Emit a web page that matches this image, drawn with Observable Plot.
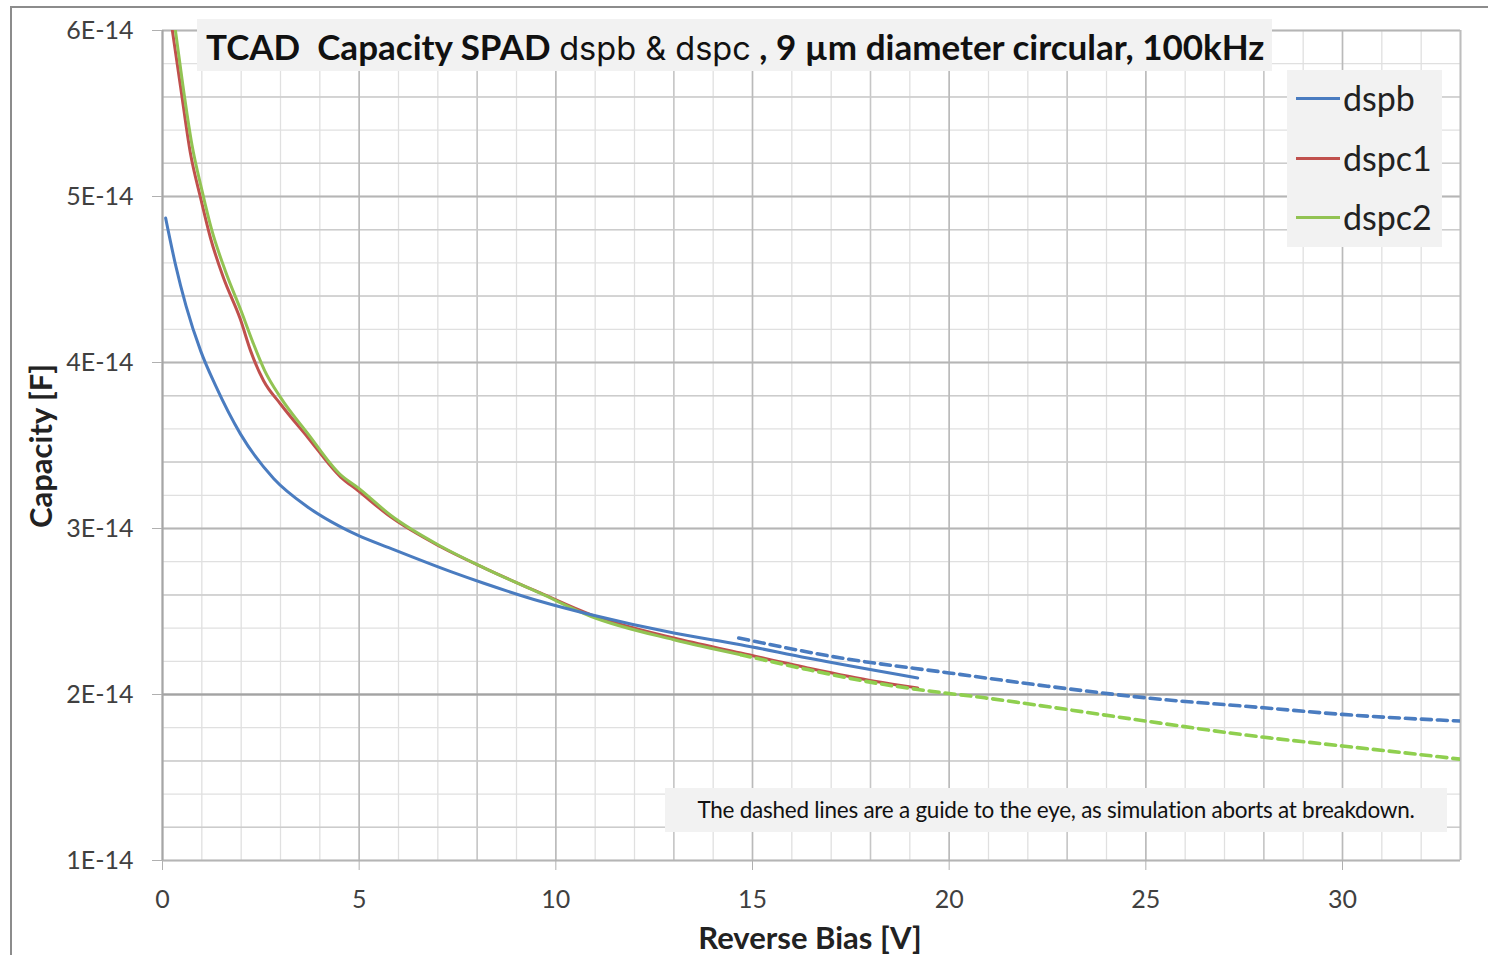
<!DOCTYPE html>
<html>
<head>
<meta charset="utf-8">
<script src="https://cdn.jsdelivr.net/npm/d3@7"></script>
<script src="https://cdn.jsdelivr.net/npm/@observablehq/plot@0.6"></script>
<style>
  html, body { margin: 0; padding: 0; background: #fff; }
  #wrap { position: relative; width: 1488px; height: 955px; overflow: hidden; font-family: Lato, "Open Sans", sans-serif; }
  #wrap svg { position: absolute; left: 0; top: 0; }
  .box { position: absolute; background: #f2f2f2; }
  #border { position: absolute; left: 10px; top: 6px; width: 1500px; height: 1000px; border-left: 2px solid #8c8c8c; border-top: 2px solid #8c8c8c; }
  #title { left: 197px; top: 19px; width: 1075px; height: 52px; font-size: 35px; line-height: 54px; color: #111; white-space: nowrap; }
  #title span.b { font-weight: 700; }
  #title span.r { font-family: Inter, "Noto Sans", sans-serif; font-weight: 400; font-size: 32.5px; }
  #legend { left: 1287px; top: 70px; width: 155px; height: 177px; }
  .li { position: absolute; left: 9px; height: 40px; width: 150px; }
  .li .sw { position: absolute; left: 0; top: 19px; width: 44px; height: 3px; }
  .li .lt { position: absolute; left: 47px; top: 0; font-size: 34px; line-height: 40px; color: #222; }
  #note { left: 665px; top: 788px; width: 782px; height: 44px; font-size: 22.5px; line-height: 44px; text-align: center; color: #111; letter-spacing: -0.25px; white-space: nowrap; }
  .axl { position: absolute; font-weight: 700; font-size: 31px; color: #222; white-space: nowrap; }
</style>
</head>
<body>
<div id="wrap"></div>
<script>
// Reverse bias [V] and capacity [in units of 1E-14 F]
const bias_dspb = [0.08, 0.33, 0.60, 0.97, 1.35, 1.98, 2.83, 3.69, 4.53, 4.96, 5.80, 7.33, 8.17, 9.62, 10.9, 13.0, 14.7, 16.4, 19.2];
const cap_dspb  = [4.87, 4.59, 4.34, 4.07, 3.86, 3.57, 3.30, 3.13, 3.01, 2.96, 2.88, 2.74, 2.67, 2.56, 2.48, 2.37, 2.30, 2.22, 2.10];

const bias_dspc1 = [0.22, 0.46, 0.71, 0.97, 1.22, 1.55, 1.98, 2.24, 2.57, 3.0, 3.69, 4.53, 4.96, 5.80, 7.07, 8.2, 9.62, 10.9, 13.0, 14.7, 16.4, 18.1, 19.2];
const cap_dspc1  = [6.05, 5.66, 5.26, 4.99, 4.75, 4.51, 4.26, 4.07, 3.89, 3.75, 3.55, 3.31, 3.23, 3.07, 2.89, 2.76, 2.61, 2.48, 2.34, 2.25, 2.16, 2.08, 2.04];

const bias_dspc2 = [0.30, 0.5, 0.75, 1.0, 1.25, 1.6, 2.0, 2.3, 2.6, 3.0, 3.7, 4.5, 5.0, 5.8, 7.1, 8.2, 9.6, 10.9, 13.0, 14.7];
const cap_dspc2  = [6.05, 5.70, 5.31, 5.04, 4.80, 4.55, 4.31, 4.12, 3.95, 3.79, 3.57, 3.33, 3.24, 3.08, 2.89, 2.76, 2.61, 2.47, 2.33, 2.24];

// dashed "guide to the eye" extrapolations
const bias_dspb_guide = [14.65, 17.25, 20.0, 22.5, 25.0, 28.0, 30.0, 33.0];
const cap_dspb_guide  = [2.34, 2.22, 2.13, 2.05, 1.98, 1.92, 1.88, 1.84];
const bias_dspc2_guide = [14.7, 16.4, 18.1, 19.2, 20.9, 22.7, 25.0, 27.4, 30.0, 31.9, 33.0];
const cap_dspc2_guide  = [2.24, 2.15, 2.07, 2.03, 1.98, 1.92, 1.84, 1.76, 1.69, 1.64, 1.61];

const xTicks = [0, 5, 10, 15, 20, 25, 30];
const yTicks = [1, 2, 3, 4, 5, 6];
const seriesNames = ["dspb", "dspc1", "dspc2"];
const seriesColors = ["#4a7cc0", "#c0504d", "#92c353"];

const UNIT = 1e-14;
const toRows = (xs, ys) => xs.map((x, i) => ({ x, y: ys[i] * UNIT }));

const xMinor = d3.range(0, 34, 1);
const xMedium = [8, 13, 18, 23, 28];
const yMinor = d3.range(10, 61, 2).map(v => v / 10 * UNIT);
const yMedium = [5.6, 5.2, 4.8, 4.4, 3.8, 3.4, 2.6, 1.6, 1.2].map(v => v * UNIT);
const yMajor = yTicks.map(v => v * UNIT);

const lineOpts = (color, dashed) => ({
  x: "x", y: "y", stroke: color, strokeWidth: dashed ? 3.6 : 3, curve: "monotone-x", clip: true,
  strokeDasharray: dashed ? "10,6" : null
});

const chart = Plot.plot({
  width: 1488,
  height: 955,
  marginLeft: 162,
  marginRight: 28,
  marginTop: 30,
  marginBottom: 95,
  x: { domain: [0, 33] },
  y: { domain: [1 * UNIT, 6 * UNIT] },
  style: { fontFamily: "Lato, 'Open Sans', sans-serif", fontSize: "25px", color: "#404040", background: "transparent", overflow: "visible" },
  marks: [
    Plot.ruleX(xMinor, { stroke: "#e0e0e0", strokeWidth: 1.3 }),
    Plot.ruleY(yMinor, { stroke: "#e0e0e0", strokeWidth: 1.3 }),
    Plot.ruleX(xMedium, { stroke: "#c6c6c6", strokeWidth: 1.5 }),
    Plot.ruleY(yMedium, { stroke: "#cccccc", strokeWidth: 1.5 }),
    Plot.ruleX(xTicks, { stroke: "#bababa", strokeWidth: 1.6 }),
    Plot.ruleY(yMajor, { stroke: "#b5b5b5", strokeWidth: 1.8 }),
    Plot.ruleY([2 * UNIT], { stroke: "#a3a3a3", strokeWidth: 2 }),
    Plot.ruleX([0], { stroke: "#a6a6a6", strokeWidth: 2 }),
    Plot.ruleX([33], { stroke: "#bdbdbd", strokeWidth: 2 }),
    Plot.axisY({ ticks: yMajor, tickFormat: d => `${Math.round(d / UNIT)}E-14`, tickSize: 10, tickPadding: 19, stroke: "#b0b0b0", fill: "#404040", label: null, fontSize: 25 }),
    Plot.axisX({ ticks: xTicks, tickFormat: d => `${d}`, tickSize: 10, tickPadding: 20, stroke: "#b0b0b0", fill: "#404040", label: null, fontSize: 25 }),
    Plot.line(toRows(bias_dspc1, cap_dspc1), lineOpts(seriesColors[1], false)),
    Plot.line(toRows(bias_dspc2, cap_dspc2), lineOpts(seriesColors[2], false)),
    Plot.line(toRows(bias_dspb, cap_dspb), lineOpts(seriesColors[0], false)),
    Plot.line(toRows(bias_dspb_guide, cap_dspb_guide), lineOpts(seriesColors[0], true)),
    Plot.line(toRows(bias_dspc2_guide, cap_dspc2_guide), lineOpts("#8fcf4f", true))
  ]
});

const wrap = document.getElementById("wrap");
wrap.appendChild(chart);

const border = document.createElement("div");
border.id = "border";
wrap.appendChild(border);

const title = document.createElement("div");
title.id = "title";
title.className = "box";
title.innerHTML = '&nbsp;<span class="b">TCAD&nbsp; Capacity SPAD </span><span class="r">dspb &amp; dspc</span><span class="b"> , 9 µm diameter circular, 100kHz</span>';
wrap.appendChild(title);

const legend = document.createElement("div");
legend.id = "legend";
legend.className = "box";
seriesNames.forEach((name, i) => {
  const li = document.createElement("div");
  li.className = "li";
  li.style.top = (8 + i * 59.5) + "px";
  const sw = document.createElement("div");
  sw.className = "sw";
  sw.style.background = seriesColors[i];
  const lt = document.createElement("div");
  lt.className = "lt";
  lt.textContent = name;
  li.appendChild(sw);
  li.appendChild(lt);
  legend.appendChild(li);
});
wrap.appendChild(legend);

const note = document.createElement("div");
note.id = "note";
note.className = "box";
note.textContent = "The dashed lines are a guide to the eye, as simulation aborts at breakdown.";
wrap.appendChild(note);

const ylab = document.createElement("div");
ylab.className = "axl";
ylab.textContent = "Capacity [F]";
ylab.style.left = "40px";
ylab.style.top = "446px";
ylab.style.transform = "translate(-50%, -50%) rotate(-90deg)";
wrap.appendChild(ylab);

const xlab = document.createElement("div");
xlab.className = "axl";
xlab.textContent = "Reverse Bias [V]";
xlab.style.left = "810px";
xlab.style.top = "937px";
xlab.style.transform = "translate(-50%, -50%)";
wrap.appendChild(xlab);
</script>
</body>
</html>
